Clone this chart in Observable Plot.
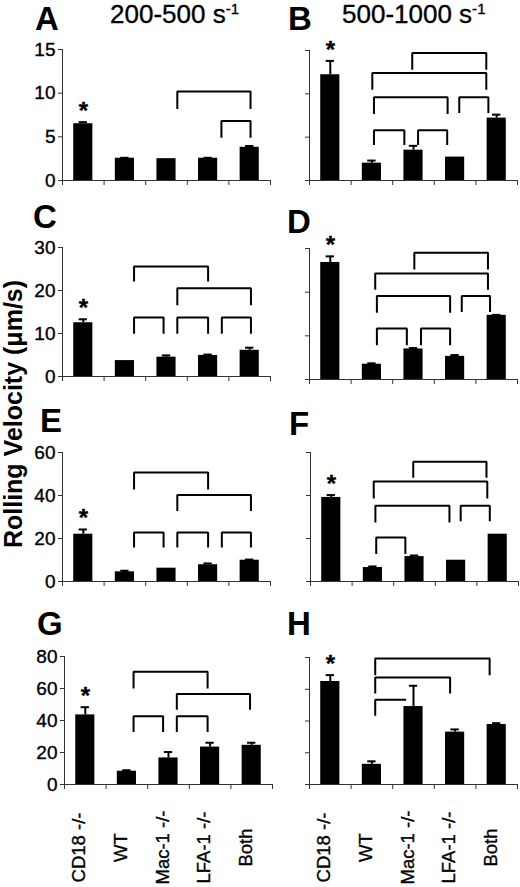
<!DOCTYPE html>
<html><head><meta charset="utf-8">
<script src="https://cdn.jsdelivr.net/npm/d3@7"></script>
<script src="https://cdn.jsdelivr.net/npm/@observablehq/plot@0.6"></script>
<style>
body{margin:0;background:#fff;}
#fig{position:relative;width:520px;height:887px;overflow:hidden;background:#fff;font-family:"Liberation Sans",Arial,sans-serif;color:#000;}
#fig svg text{stroke:#000;stroke-width:0.35px;}
.lbl{position:absolute;line-height:1;white-space:nowrap;}
.letter{font-weight:bold;font-size:33px;}
.hdr{font-size:26px;-webkit-text-stroke:0.35px #000;}
.hdr sup{font-size:0.58em;vertical-align:0.62em;line-height:0;}
#ylab{position:absolute;left:13px;top:414px;transform:translate(-50%,-50%) rotate(-90deg);font-weight:bold;font-size:25px;white-space:nowrap;line-height:1;}
</style></head><body><div id="fig"></div>
<script>
// ---- data ----
const categories = ["CD18 -/-", "WT", "Mac-1 -/-", "LFA-1 -/-", "Both"];
const shearRates = ["200-500", "500-1000"];
const yLabel = "Rolling Velocity (\u03bcm/s)";

const ticksAB = [0, 5, 10, 15];
const ticksCD = [0, 10, 20, 30];
const ticksEF = [0, 20, 40, 60];
const ticksGH = [0, 20, 40, 60, 80];

const meanA = [6.5, 2.55, 2.5, 2.55, 3.8];
const semA  = [0.18, 0.05, 0.0, 0.05, 0.15];
const meanB = [12.2, 2.0, 3.5, 2.7, 7.2];
const semB  = [1.6, 0.3, 0.5, 0.0, 0.4];
const meanC = [12.5, 3.7, 4.5, 4.9, 6.1];
const semC  = [0.8, 0.0, 0.4, 0.2, 0.6];
const meanD = [26.8, 3.5, 7.0, 5.3, 14.7];
const semD  = [1.4, 0.2, 0.2, 0.3, 0.1];
const meanE = [22.0, 4.5, 6.2, 7.8, 9.9];
const semE  = [2.2, 0.5, 0.0, 0.6, 0.3];
const meanF = [39.1, 6.5, 11.6, 9.9, 22.0];
const semF  = [1.1, 0.5, 0.5, 0.0, 0.0];
const meanG = [43.5, 8.3, 16.6, 23.4, 24.5];
const semG  = [4.8, 0.6, 3.7, 2.7, 1.6];
const meanH = [64.9, 12.7, 49.1, 33.0, 37.8];
const semH  = [4.0, 1.9, 13.1, 1.7, 0.8];

// significance brackets: [from, to, top, foot, openRight]
const bracketsA = [[2.76,4.52,10.2,8.3],[3.82,4.52,6.8,5.0]];
const bracketsB = [[2.47,4.25,14.7,12.9],[1.51,4.25,12.4,10.6],[1.55,3.32,9.6,7.8],[3.6,4.3,9.6,7.9],[1.55,2.28,5.8,4.2],[2.61,3.31,5.8,4.2]];
const bracketsC = [[1.72,3.5,25.6,22.3],[2.76,4.53,20.5,16.8],[1.72,2.43,13.7,10.2],[2.76,3.5,13.7,10.2],[3.83,4.53,13.7,10.2]];
const bracketsD = [[2.52,4.29,29.0,25.4],[1.58,4.29,24.3,20.8],[1.62,3.38,19.1,15.5],[3.66,4.34,19.1,15.7],[1.62,2.34,11.7,8.1],[2.68,3.38,11.7,8.1]];
const bracketsE = [[1.72,3.5,50.7,43.3],[2.76,4.53,40.2,33.2],[1.72,2.43,22.8,16.3],[2.76,3.5,22.8,16.3],[3.83,4.53,22.8,16.3]];
const bracketsF = [[2.47,4.23,55.7,48.7],[1.52,4.25,46.5,39.1],[1.56,3.34,35.2,27.9],[3.61,4.31,35.2,28.5],[1.58,2.28,20.5,13.2]];
const bracketsG = [[1.66,3.44,70.5,60.7],[2.70,4.46,56.6,47.3],[1.66,2.37,42.7,33.4],[2.70,3.44,42.7,33.4]];
const bracketsH = [[1.58,4.33,79.3,69.5],[1.58,3.38,67.4,58.0],[1.58,2.30,53.4,44.0,true]];

// ---- layout (page pixels of each panel's frame) ----
const frames = {
  A:{left:62,right:270,top:49,bottom:180}, B:{left:309,right:517,top:50,bottom:180},
  C:{left:62,right:270,top:247,bottom:376}, D:{left:309,right:517,top:248,bottom:379},
  E:{left:62,right:270,top:452,bottom:581}, F:{left:310,right:518,top:452,bottom:581},
  G:{left:64,right:272,top:656,bottom:784}, H:{left:309,right:517,top:657,bottom:784}
};
const letterPos = {A:[35,30],B:[288,30],C:[33,228],D:[287,233],E:[40,432],F:[289,435],G:[37,635],H:[287,635]};
const FONT = '"Liberation Sans", Arial, sans-serif';
const AX = "#333";

const fig = document.getElementById("fig");

function drawPanel(id, means, sems, brackets, ticks, showTickLabels, showCats) {
  const f = frames[id];
  const colX = f.left < 260 ? 0 : 260;
  const mt = 40, mb = showCats ? 100 : 14;
  const rows = categories.map((c, i) => ({cat: c, i, xc: i + 0.5, mean: means[i], sem: sems[i]}));
  const pts = [];
  brackets.forEach((b, k) => {
    const [x1, x2, top, foot, open] = b;
    pts.push({k, x: x1, y: foot}, {k, x: x1, y: top}, {k, x: x2, y: top});
    if (!open) pts.push({k, x: x2, y: foot});
  });
  const marks = [
    Plot.axisY({ticks, tickSize: 4, tickPadding: 3, fontSize: 19, label: null, stroke: AX,
      tickFormat: showTickLabels ? (d => String(d)) : (() => "")}),
    Plot.axisX({ticks: [0,1,2,3,4,5], tickSize: 5, tickFormat: () => "", label: null, stroke: AX}),
    Plot.ruleX([0], {stroke: AX, strokeWidth: 1}),
    Plot.ruleY([0], {stroke: AX, strokeWidth: 1}),
    Plot.rect(rows, {x1: d => d.xc - 0.23, x2: d => d.xc + 0.23, y1: 0, y2: "mean", fill: "#000"}),
    Plot.ruleX(rows.filter(d => d.sem > 0), {x: "xc", y1: "mean", y2: d => d.mean + d.sem, stroke: "#000", strokeWidth: 2}),
    Plot.ruleY(rows.filter(d => d.sem > 0), {x1: d => d.xc - 0.1, x2: d => d.xc + 0.1, y: d => d.mean + d.sem, stroke: "#000", strokeWidth: 2}),
    Plot.line(pts, {x: "x", y: "y", z: "k", stroke: "#000", strokeWidth: 2, strokeLinejoin: "miter", strokeLinecap: "square"}),
    Plot.text([rows[0]], {x: "xc", y: d => d.mean + d.sem, text: () => "*", dy: -11, fontSize: 24, fontWeight: "bold"})
  ];
  if (showCats) {
    marks.push(Plot.text(rows, {x: "xc", text: "cat", frameAnchor: "bottom", dy: 63, rotate: -90, textAnchor: "middle", fontSize: 18.5}));
  }
  const plot = Plot.plot({
    width: 260,
    height: f.bottom - f.top + mt + mb,
    marginLeft: f.left - colX, marginRight: colX + 260 - f.right,
    marginTop: mt, marginBottom: mb,
    x: {domain: [0, 5]},
    y: {domain: [0, ticks[ticks.length - 1]]},
    style: {background: "transparent", overflow: "visible", fontFamily: FONT, color: "#000"},
    marks
  });
  plot.style.position = "absolute";
  plot.style.left = colX + "px";
  plot.style.top = (f.top - mt) + "px";
  plot.style.maxWidth = "none";
  fig.appendChild(plot);

  const [lx, base] = letterPos[id];
  const L = document.createElement("div");
  L.className = "lbl letter";
  L.textContent = id;
  L.style.left = lx + "px";
  L.style.top = (base - 0.8465 * 33) + "px";
  fig.appendChild(L);
}

drawPanel("A", meanA, semA, bracketsA, ticksAB, true, false);
drawPanel("B", meanB, semB, bracketsB, ticksAB, false, false);
drawPanel("C", meanC, semC, bracketsC, ticksCD, true, false);
drawPanel("D", meanD, semD, bracketsD, ticksCD, false, false);
drawPanel("E", meanE, semE, bracketsE, ticksEF, true, false);
drawPanel("F", meanF, semF, bracketsF, ticksEF, false, false);
drawPanel("G", meanG, semG, bracketsG, ticksGH, true, true);
drawPanel("H", meanH, semH, bracketsH, ticksGH, false, true);

// column headers
[[110, shearRates[0]], [342, shearRates[1]]].forEach(([x, t]) => {
  const h = document.createElement("div");
  h.className = "lbl hdr";
  h.innerHTML = t + " s<sup>-1</sup>";
  h.style.left = x + "px";
  h.style.top = (23.3 - 0.8465 * 26) + "px";
  fig.appendChild(h);
});
const yl = document.createElement("div");
yl.id = "ylab";
yl.textContent = yLabel;
fig.appendChild(yl);
</script>
</body></html>
